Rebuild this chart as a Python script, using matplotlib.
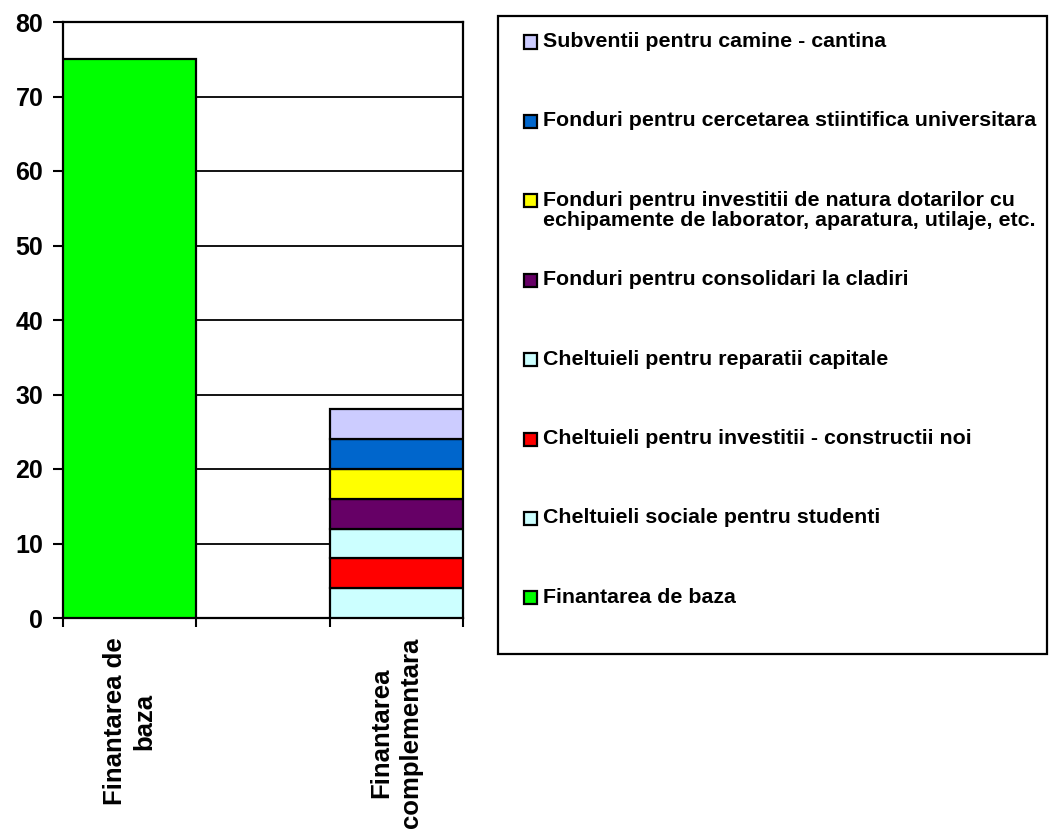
import matplotlib.pyplot as plt
from matplotlib.patches import Rectangle

plt.rcParams['font.family'] = ['Liberation Sans', 'DejaVu Sans']
plt.rcParams['font.weight'] = 'bold'

# data
categories = ['Finantarea de\nbaza', 'Finantarea\ncomplementara']
series_names = [
    'Finantarea de baza',
    'Cheltuieli sociale pentru studenti',
    'Cheltuieli pentru investitii - constructii noi',
    'Cheltuieli pentru reparatii capitale',
    'Fonduri pentru consolidari la cladiri',
    'Fonduri pentru investitii de natura dotarilor cu\nechipamente de laborator, aparatura, utilaje, etc.',
    'Fonduri pentru cercetarea stiintifica universitara',
    'Subventii pentru camine - cantina',
]
series_values = [
    [75, 0],
    [0, 4],
    [0, 4],
    [0, 4],
    [0, 4],
    [0, 4],
    [0, 4],
    [0, 4],
]
series_colors = ['#00FF00', '#CCFFFF', '#FF0000', '#CCFFFF',
                 '#660066', '#FFFF00', '#0066CC', '#CCCCFF']
yticks = [0, 10, 20, 30, 40, 50, 60, 70, 80]

W, H = 1050, 834
fig = plt.figure(figsize=(W / 100, H / 100), dpi=100)
ax = fig.add_axes([63 / W, 1 - 618 / H, 400 / W, 596 / H])

xpos = [0, 2]
bottom = [0, 0]
for vals, col in zip(series_values, series_colors):
    for i, v in enumerate(vals):
        if v > 0:
            ax.bar(xpos[i], v, width=1, bottom=bottom[i], color=col,
                   edgecolor='black', linewidth=1.6, zorder=3)
        bottom[i] += v

ax.set_xlim(-0.5, 2.5)
ax.set_ylim(0, 80)
ax.set_yticks(yticks)
ax.set_yticklabels([str(t) for t in yticks], fontsize=18, fontweight='bold')
ax.tick_params(axis='y', length=7.2, width=1.5, pad=7, direction='out')

# boundaries as major ticks, category names on minor ticks
ax.set_xticks([-0.5, 0.5, 1.5, 2.5])
ax.set_xticklabels([])
ax.tick_params(axis='x', which='major', length=6.5, width=1.5, direction='out')
ax.set_xticks(xpos, minor=True)
ax.set_xticklabels(categories, minor=True, rotation=90, fontsize=18.5,
                   fontweight='bold', va='top', ha='center',
                   multialignment='center', linespacing=1.3)
ax.tick_params(axis='x', which='minor', length=0, pad=14)

ax.yaxis.grid(True, color='black', linewidth=1.3, zorder=0)
ax.set_axisbelow(True)
for s in ax.spines.values():
    s.set_linewidth(1.6)

# legend box, drawn by hand to match the original layout
fig.add_artist(Rectangle((498 / W, 1 - 654 / H), 549 / W, 638 / H,
                         transform=fig.transFigure, facecolor='white',
                         edgecolor='black', linewidth=1.6))
row_y = 42
step = 79.4
for name, col in zip(series_names[::-1], series_colors[::-1]):
    fig.add_artist(Rectangle((524 / W, 1 - (row_y + 6.5) / H), 13 / W, 13 / H,
                             transform=fig.transFigure, facecolor=col,
                             edgecolor='black', linewidth=1.6))
    fig.text(543 / W, 1 - (row_y - 10) / H, name, fontsize=15.4,
             fontweight='bold', va='top', ha='left', linespacing=1.05)
    row_y += step

fig.savefig('out.png', dpi=100)
